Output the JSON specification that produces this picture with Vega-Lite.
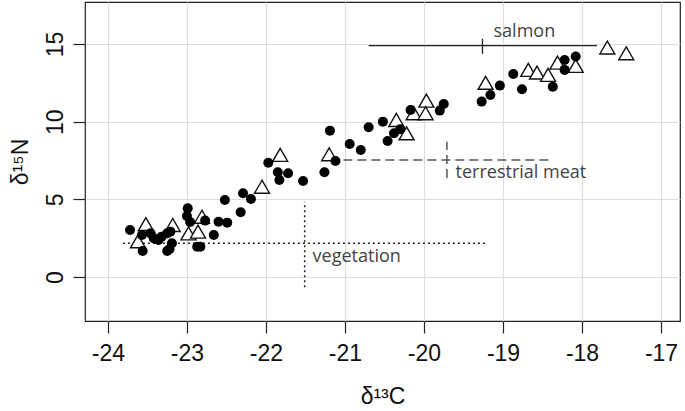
{
  "$schema": "https://vega.github.io/schema/vega-lite/v6.json",
  "width": 595,
  "height": 319,
  "autosize": {"type": "none"},
  "padding": {"left": 85, "top": 2, "right": 5, "bottom": 90},
  "background": "white",
  "config": {
    "view": {"stroke": "#222", "strokeWidth": 1.2},
    "font": "Liberation Sans"
  },
  "datasets": {
    "circles": [
      {"d13C": -23.72, "d15N": 3.03}, {"d13C": -23.56, "d15N": 1.67}, {"d13C": -23.57, "d15N": 2.70},
      {"d13C": -23.46, "d15N": 2.81}, {"d13C": -23.42, "d15N": 2.49}, {"d13C": -23.36, "d15N": 2.38},
      {"d13C": -23.32, "d15N": 2.60}, {"d13C": -23.25, "d15N": 2.81}, {"d13C": -23.21, "d15N": 2.92},
      {"d13C": -23.19, "d15N": 2.17}, {"d13C": -23.25, "d15N": 1.67}, {"d13C": -23.22, "d15N": 1.80},
      {"d13C": -22.99, "d15N": 4.42}, {"d13C": -23.00, "d15N": 3.93}, {"d13C": -22.96, "d15N": 3.54},
      {"d13C": -22.77, "d15N": 3.63}, {"d13C": -22.87, "d15N": 1.95}, {"d13C": -22.83, "d15N": 1.95},
      {"d13C": -22.66, "d15N": 2.70}, {"d13C": -22.60, "d15N": 3.56}, {"d13C": -22.49, "d15N": 3.50},
      {"d13C": -22.52, "d15N": 4.96}, {"d13C": -22.32, "d15N": 4.17}, {"d13C": -22.29, "d15N": 5.39},
      {"d13C": -22.19, "d15N": 5.02}, {"d13C": -21.97, "d15N": 7.36}, {"d13C": -21.85, "d15N": 6.74},
      {"d13C": -21.83, "d15N": 6.25}, {"d13C": -21.72, "d15N": 6.68}, {"d13C": -21.53, "d15N": 6.18},
      {"d13C": -21.26, "d15N": 6.74}, {"d13C": -21.12, "d15N": 7.47}, {"d13C": -21.19, "d15N": 9.42},
      {"d13C": -20.94, "d15N": 8.56}, {"d13C": -20.80, "d15N": 8.18}, {"d13C": -20.70, "d15N": 9.64},
      {"d13C": -20.52, "d15N": 10.00}, {"d13C": -20.46, "d15N": 8.76}, {"d13C": -20.38, "d15N": 9.25},
      {"d13C": -20.30, "d15N": 9.51}, {"d13C": -20.17, "d15N": 10.75}, {"d13C": -19.80, "d15N": 10.71},
      {"d13C": -19.75, "d15N": 11.14}, {"d13C": -19.27, "d15N": 11.29}, {"d13C": -19.16, "d15N": 11.72},
      {"d13C": -19.04, "d15N": 12.32}, {"d13C": -18.87, "d15N": 13.07}, {"d13C": -18.76, "d15N": 12.09},
      {"d13C": -18.37, "d15N": 12.25}, {"d13C": -18.22, "d15N": 13.97}, {"d13C": -18.22, "d15N": 13.33},
      {"d13C": -18.08, "d15N": 14.19}
    ],
    "triangles": [
      {"d13C": -23.52, "d15N": 3.41}, {"d13C": -23.18, "d15N": 3.35}, {"d13C": -22.81, "d15N": 3.88},
      {"d13C": -22.98, "d15N": 2.81}, {"d13C": -22.86, "d15N": 2.92}, {"d13C": -23.62, "d15N": 2.30},
      {"d13C": -22.05, "d15N": 5.81}, {"d13C": -21.82, "d15N": 7.86}, {"d13C": -21.20, "d15N": 7.90},
      {"d13C": -20.35, "d15N": 10.11}, {"d13C": -20.22, "d15N": 9.25}, {"d13C": -20.13, "d15N": 10.54},
      {"d13C": -19.97, "d15N": 11.35}, {"d13C": -19.98, "d15N": 10.54}, {"d13C": -19.22, "d15N": 12.50},
      {"d13C": -18.68, "d15N": 13.33}, {"d13C": -18.57, "d15N": 13.16}, {"d13C": -18.43, "d15N": 13.01},
      {"d13C": -18.31, "d15N": 13.80}, {"d13C": -18.08, "d15N": 13.59}, {"d13C": -17.68, "d15N": 14.77},
      {"d13C": -17.44, "d15N": 14.40}
    ],
    "sources": [
      {"source": "salmon", "mx": -19.26, "xlo": -20.70, "xhi": -17.81, "my": 14.89, "ylo": 14.36, "yhi": 15.33, "lx": -19.12, "ly": 15.45},
      {"source": "terrestrial meat", "mx": -19.71, "xlo": -21.02, "xhi": -18.40, "my": 7.53, "ylo": 6.37, "yhi": 8.71, "lx": -19.60, "ly": 6.37},
      {"source": "vegetation", "mx": -21.51, "xlo": -23.81, "xhi": -19.22, "my": 2.17, "ylo": -0.66, "yhi": 4.85, "lx": -21.41, "ly": 0.97}
    ]
  },
  "layer": [
    {
      "data": {"name": "circles"},
      "mark": {"type": "point", "opacity": 0},
      "encoding": {
        "x": {
          "field": "d13C", "type": "quantitative",
          "scale": {"domain": [-24.29, -16.76], "nice": false, "zero": false},
          "axis": {
            "values": [-24, -23, -22, -21, -20, -19, -18, -17],
            "labelExpr": "'' + datum.value",
            "title": "δ¹³C",
            "grid": true, "gridColor": "#dcdcdc", "gridWidth": 1.2,
            "domain": false, "tickColor": "#222", "tickSize": 12, "tickWidth": 1.2,
            "labelFont": "Liberation Sans", "labelFontSize": 23, "labelColor": "#111",
            "labelPadding": 9, "labelFlush": false, "labelOverlap": false,
            "titleFont": "Liberation Sans", "titleFontSize": 23, "titleFontWeight": "normal", "titleColor": "#111",
            "titlePadding": 20
          }
        },
        "y": {
          "field": "d15N", "type": "quantitative",
          "scale": {"domain": [-2.83, 17.7], "nice": false, "zero": false},
          "axis": {
            "values": [0, 5, 10, 15],
            "labelExpr": "'' + datum.value",
            "title": "δ¹⁵N",
            "grid": true, "gridColor": "#dcdcdc", "gridWidth": 1.2,
            "domain": false, "tickColor": "#222", "tickSize": 12, "tickWidth": 1.2,
            "labelFont": "Liberation Sans", "labelFontSize": 23, "labelColor": "#111",
            "labelAngle": -90, "labelAlign": "center", "labelBaseline": "bottom",
            "labelPadding": 6, "labelFlush": false,
            "titleFont": "Liberation Sans", "titleFontSize": 23, "titleFontWeight": "normal", "titleColor": "#111",
            "titlePadding": 12
          }
        }
      }
    },
    {
      "data": {"name": "sources"},
      "transform": [{"filter": "datum.source == 'salmon'"}],
      "layer": [
        {"mark": {"type": "rule", "color": "#222", "strokeWidth": 1.3},
         "encoding": {"x": {"field": "xlo", "type": "quantitative"}, "x2": {"field": "xhi"}, "y": {"field": "my", "type": "quantitative"}}},
        {"mark": {"type": "rule", "color": "#222", "strokeWidth": 1.3},
         "encoding": {"x": {"field": "mx", "type": "quantitative"}, "y": {"field": "ylo", "type": "quantitative"}, "y2": {"field": "yhi"}}}
      ]
    },
    {
      "data": {"name": "sources"},
      "transform": [{"filter": "datum.source == 'terrestrial meat'"}],
      "layer": [
        {"mark": {"type": "rule", "color": "#555", "strokeWidth": 1.5, "strokeDash": [9, 5]},
         "encoding": {"x": {"field": "xlo", "type": "quantitative"}, "x2": {"field": "xhi"}, "y": {"field": "my", "type": "quantitative"}}},
        {"mark": {"type": "rule", "color": "#555", "strokeWidth": 1.5, "strokeDash": [9, 5]},
         "encoding": {"x": {"field": "mx", "type": "quantitative"}, "y": {"field": "ylo", "type": "quantitative"}, "y2": {"field": "yhi"}}}
      ]
    },
    {
      "data": {"name": "sources"},
      "transform": [{"filter": "datum.source == 'vegetation'"}],
      "layer": [
        {"mark": {"type": "rule", "color": "#222", "strokeWidth": 1.5, "strokeDash": [2, 3]},
         "encoding": {"x": {"field": "xlo", "type": "quantitative"}, "x2": {"field": "xhi"}, "y": {"field": "my", "type": "quantitative"}}},
        {"mark": {"type": "rule", "color": "#222", "strokeWidth": 1.5, "strokeDash": [2, 3]},
         "encoding": {"x": {"field": "mx", "type": "quantitative"}, "y": {"field": "ylo", "type": "quantitative"}, "y2": {"field": "yhi"}}}
      ]
    },
    {
      "data": {"name": "sources"},
      "mark": {"type": "text", "align": "left", "baseline": "alphabetic", "font": "Open Sans", "fontSize": 18, "color": "#444"},
      "encoding": {
        "x": {"field": "lx", "type": "quantitative"},
        "y": {"field": "ly", "type": "quantitative"},
        "text": {"field": "source"}
      }
    },
    {
      "data": {"name": "triangles"},
      "mark": {"type": "point", "shape": "triangle-up", "size": 225, "filled": true, "fill": "white", "stroke": "#111", "strokeWidth": 1.4, "opacity": 1},
      "encoding": {
        "x": {"field": "d13C", "type": "quantitative"},
        "y": {"field": "d15N", "type": "quantitative"}
      }
    },
    {
      "data": {"name": "circles"},
      "mark": {"type": "circle", "size": 100, "color": "#000", "opacity": 1},
      "encoding": {
        "x": {"field": "d13C", "type": "quantitative"},
        "y": {"field": "d15N", "type": "quantitative"}
      }
    }
  ]
}
